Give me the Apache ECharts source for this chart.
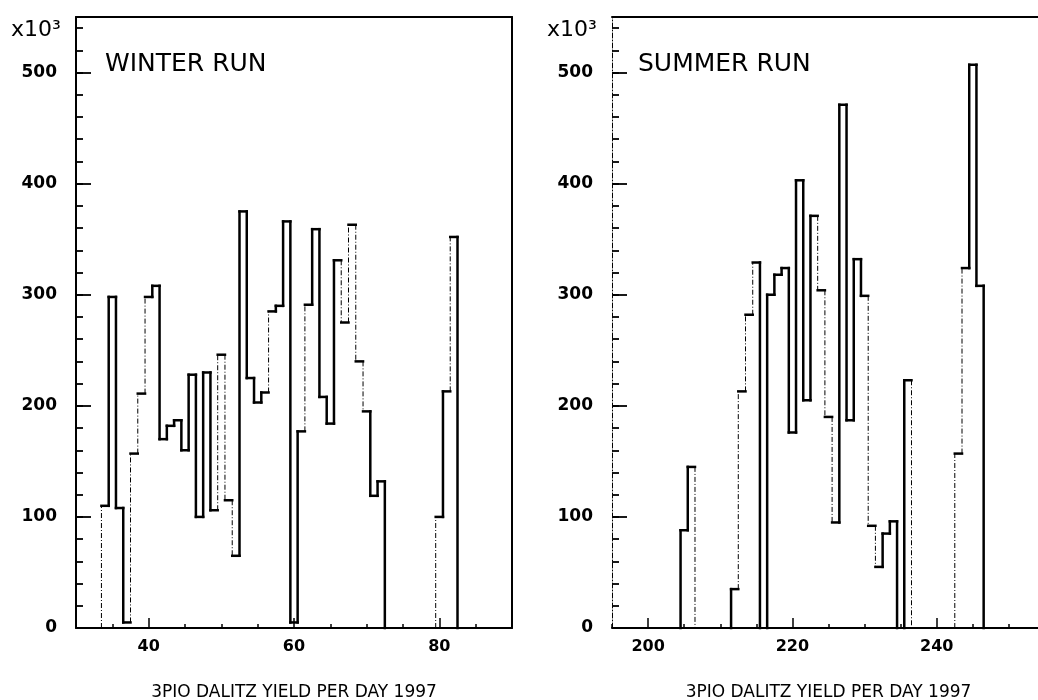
<!DOCTYPE html>
<html>
<head>
<meta charset="utf-8">
<script src="https://cdn.jsdelivr.net/npm/echarts@6/dist/echarts.min.js"></script>
<style>
html,body{margin:0;padding:0;background:#fff;}
#chart{width:1038px;height:700px;}
</style>
</head>
<body>
<div id="chart"></div>
<script>
// ---------- DATA (yield per day, in units of 10^3) ----------
const winterDays = [34,35,36,37,38,39,40,41,42,43,44,45,46,47,48,49,50,51,52,53,54,55,56,57,58,59,60,61,62,63,64,65,66,67,68,69,70,71,72,73,74,75,76,77,78,79,80,81,82];
const winterYield = [110,298,108,5,157,211,298,308,170,182,187,160,228,100,230,106,246,115,65,375,225,203,212,285,290,366,5,177,291,359,208,184,331,275,363,240,195,119,132,0,0,0,0,0,0,0,100,213,352];

const summerDays = [205,206,207,208,209,210,211,212,213,214,215,216,217,218,219,220,221,222,223,224,225,226,227,228,229,230,231,232,233,234,235,236,237,238,239,240,241,242,243,244,245,246];
const summerYield = [88,145,0,0,0,0,0,35,213,282,329,0,300,318,324,176,403,205,371,304,190,95,471,187,332,299,92,55,85,96,0,223,0,0,0,0,0,0,157,324,507,308];

const winterXTicks = [40, 60, 80];
const summerXTicks = [200, 220, 240];
const yTickStep = 100;
const yMinorStep = 20;
const xMinorStep = 5;

// days whose left bin edge is drawn as thin dash-dot line (as in the scanned original)
const winterDashEdges = [34,38,39,40,50,51,52,57,62,67,68,69,70,80,82];
const summerDashEdges = [207,213,214,215,224,225,226,231,232,237,243,244];

const xTitle = '3PIO DALITZ YIELD PER DAY 1997';

// ---------- build ----------
function histData(days, vals) {
  return days.map((d, i) => [d, vals[i], i > 0 ? vals[i - 1] : 0, i === days.length - 1 ? 1 : 0]);
}

function histRenderer(dashList) {
  const dashSet = new Set(dashList);
  return function (params, api) {
    const day = api.value(0), v = api.value(1), prev = api.value(2), last = api.value(3);
    const pL = api.coord([day - 0.5, v]);
    const pR = api.coord([day + 0.5, v]);
    const pP = api.coord([day - 0.5, prev]);
    const p0 = api.coord([day + 0.5, 0]);
    const solid = () => ({ stroke: '#000', lineWidth: 2.5, lineCap: 'square', fill: null });
    const dashed = () => ({ stroke: '#000', lineWidth: 1, lineDash: [5, 2, 1, 2], fill: null });
    const children = [];
    if (v !== prev) {
      children.push({ type: 'line', shape: { x1: pP[0], y1: pP[1], x2: pL[0], y2: pL[1] }, style: dashSet.has(day) ? dashed() : solid() });
    }
    if (v !== 0) {
      children.push({ type: 'line', shape: { x1: pL[0], y1: pL[1], x2: pR[0], y2: pR[1] }, style: solid() });
    }
    if (last && v !== 0) {
      children.push({ type: 'line', shape: { x1: pR[0], y1: pR[1], x2: p0[0], y2: p0[1] }, style: solid() });
    }
    return { type: 'group', children: children };
  };
}

const FONT = 'DejaVu Sans';
const black = '#000';

function xAxes(grid, min, max, ticks) {
  return [
    { // major bottom axis with labels
      gridIndex: grid, type: 'value', position: 'bottom', min: min, max: max,
      axisLine: { show: true, onZero: false, lineStyle: { color: black, width: 2 } },
      axisTick: { show: true, inside: true, length: 10, customValues: ticks, lineStyle: { color: black, width: 1.5 } },
      axisLabel: { show: true, customValues: ticks, margin: 11, color: black, fontFamily: FONT, fontSize: 16, fontWeight: 'bold' },
      splitLine: { show: false },
      name: xTitle, nameLocation: 'middle', nameGap: 56,
      nameTextStyle: { color: black, fontFamily: FONT, fontSize: 17 }
    },
    { // minor ticks
      gridIndex: grid, type: 'value', position: 'bottom', min: min, max: max, interval: xMinorStep,
      axisLine: { show: false, onZero: false },
      axisTick: { show: true, inside: true, length: 4, lineStyle: { color: black, width: 1.5 } },
      axisLabel: { show: false }, splitLine: { show: false }
    },
    { // top border
      gridIndex: grid, type: 'value', position: 'top', min: min, max: max,
      axisLine: { show: true, onZero: false, lineStyle: { color: black, width: 2 } },
      axisTick: { show: false }, axisLabel: { show: false }, splitLine: { show: false }
    }
  ];
}

function yAxes(grid, dashedLine, withRight) {
  const arr = [
    {
      gridIndex: grid, type: 'value', position: 'left', min: 0, max: 550, interval: yTickStep,
      axisLine: { show: true, onZero: false, lineStyle: dashedLine ? { color: black, width: 1, type: [5, 2, 1, 2] } : { color: black, width: 2 } },
      axisTick: { show: true, inside: true, length: 15, lineStyle: { color: black, width: 1.8 } },
      axisLabel: { show: true, showMaxLabel: false, margin: 19, color: black, fontFamily: FONT, fontSize: 17, fontWeight: 'bold' },
      splitLine: { show: false }
    },
    {
      gridIndex: grid, type: 'value', position: 'left', min: 0, max: 550, interval: yMinorStep,
      axisLine: { show: false, onZero: false },
      axisTick: { show: true, inside: true, length: 7, lineStyle: { color: black, width: 1.8 } },
      axisLabel: { show: false }, splitLine: { show: false }
    }
  ];
  if (withRight) {
    arr.push({
      gridIndex: grid, type: 'value', position: 'right', min: 0, max: 550,
      axisLine: { show: true, onZero: false, lineStyle: { color: black, width: 2 } },
      axisTick: { show: false }, axisLabel: { show: false }, splitLine: { show: false }
    });
  }
  return arr;
}

const chart = echarts.init(document.getElementById('chart'), null, { renderer: 'canvas' });

const option = {
  animation: false,
  backgroundColor: '#fff',
  grid: [
    { left: 76, top: 17, width: 436, height: 611, containLabel: false, outerBoundsMode: 'none' },
    { left: 612, top: 17, width: 433, height: 611, containLabel: false, outerBoundsMode: 'none' }
  ],
  xAxis: xAxes(0, 30, 90, winterXTicks).concat(xAxes(1, 195, 255, summerXTicks)),
  yAxis: yAxes(0, false, true).concat(yAxes(1, true, false)),
  graphic: [
    { type: 'text', x: 11, y: 30, style: { text: 'x10³', fill: black, font: '22px "DejaVu Sans"', verticalAlign: 'middle', align: 'left' } },
    { type: 'text', x: 547, y: 30, style: { text: 'x10³', fill: black, font: '22px "DejaVu Sans"', verticalAlign: 'middle', align: 'left' } },
    { type: 'text', x: 105, y: 64.5, style: { text: 'WINTER RUN', fill: black, font: '25px "DejaVu Sans"', verticalAlign: 'middle', align: 'left' } },
    { type: 'text', x: 638, y: 64.5, style: { text: 'SUMMER RUN', fill: black, font: '25px "DejaVu Sans"', verticalAlign: 'middle', align: 'left' } }
  ],
  series: [
    {
      type: 'custom', name: 'Winter run',
      xAxisIndex: 0, yAxisIndex: 0,
      dimensions: ['day', 'yield', 'prev', 'last'],
      encode: { x: 0, y: 1 },
      renderItem: histRenderer(winterDashEdges),
      data: histData(winterDays, winterYield)
    },
    {
      type: 'custom', name: 'Summer run',
      xAxisIndex: 3, yAxisIndex: 3,
      dimensions: ['day', 'yield', 'prev', 'last'],
      encode: { x: 0, y: 1 },
      renderItem: histRenderer(summerDashEdges),
      data: histData(summerDays, summerYield)
    }
  ]
};
chart.setOption(option);
</script>
</body>
</html>
